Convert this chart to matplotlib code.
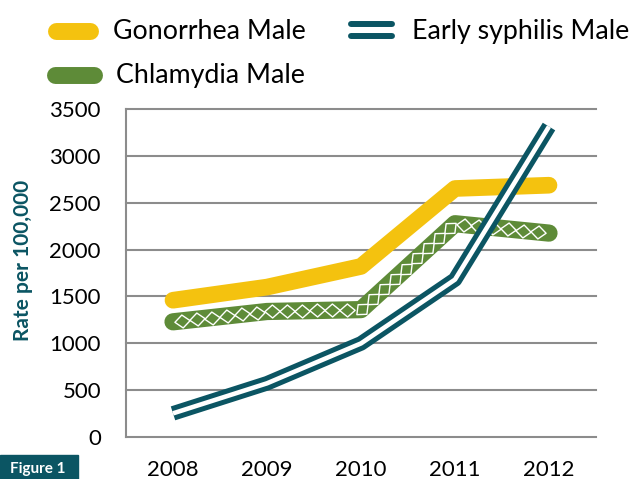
import numpy as np
import matplotlib
matplotlib.use('Agg')
import matplotlib.pyplot as plt
from matplotlib.path import Path
from matplotlib.markers import MarkerStyle
from matplotlib.transforms import Affine2D
from matplotlib.patches import Rectangle, Polygon

# ---- data ----
years = ['2008', '2009', '2010', '2011', '2012']
gonorrhea = [1460, 1600, 1820, 2650, 2685]
chlamydia = [1230, 1340, 1360, 2275, 2175]
syphilis = [255, 575, 1000, 1680, 3310]
yticks = [0, 500, 1000, 1500, 2000, 2500, 3000, 3500]
series_names = ['Gonorrhea Male', 'Early syphilis Male', 'Chlamydia Male']
ylabel = 'Rate per 100,000'
fig_label = 'Figure 1'

# ---- style ----
YELLOW = '#F4C20F'
GREEN = '#5E8B38'
TEAL = '#0B5563'
GRID = '#8C8C8C'
plt.rcParams['font.family'] = ['Lato', 'DejaVu Sans']

W, H = 631, 479
fig = plt.figure(figsize=(W / 100, H / 100), dpi=100)
ax_l, ax_r, ax_t, ax_b = 126, 596, 108.7, 437.3
ax = fig.add_axes([ax_l / W, (H - ax_b) / H, (ax_r - ax_l) / W, (ax_b - ax_t) / H])
x = np.arange(len(years))
ax.set_xlim(-0.5, len(years) - 0.5)
ax.set_ylim(0, 3500)
ax.set_xticks(x)
ax.set_xticklabels(years)
ax.set_yticks(yticks)
ax.set_yticklabels([str(v) for v in yticks])
ax.tick_params(axis='both', length=0, labelsize=16, colors='#000000')
ax.tick_params(axis='y', pad=18)
ax.tick_params(axis='x', pad=16)
for s in ['top', 'right', 'bottom']:
    ax.spines[s].set_visible(False)
ax.spines['left'].set_color(GRID)
ax.spines['left'].set_linewidth(1.5)
for v in yticks:
    ax.axhline(v, color=GRID, lw=1.5, zorder=0.5, clip_on=False)

# Gonorrhea
ax.plot(x, gonorrhea, color=YELLOW, lw=12, solid_capstyle='round',
        solid_joinstyle='round', zorder=3)
# Chlamydia
ax.plot(x, chlamydia, color=GREEN, lw=12.4, solid_capstyle='round',
        solid_joinstyle='round', zorder=3)

# diamond pattern along chlamydia line
pts = ax.transData.transform(np.column_stack([x, chlamydia]))
seg = np.diff(pts, axis=0)
seglen = np.hypot(seg[:, 0], seg[:, 1])
cum = np.concatenate([[0], np.cumsum(seglen)])
step = 15.0
inv = ax.transData.inverted()
diamond = Path([(-1, 0), (0, 0.85), (1, 0), (0, -0.85), (-1, 0)],
               [Path.MOVETO, Path.LINETO, Path.LINETO, Path.LINETO, Path.CLOSEPOLY])
for s in np.arange(9.5, cum[-1] - 6, step):
    i = min(np.searchsorted(cum, s, side='right') - 1, len(seg) - 1)
    t = (s - cum[i]) / seglen[i]
    p = pts[i] + t * seg[i]
    ang = np.degrees(np.arctan2(seg[i, 1], seg[i, 0]))
    dp = inv.transform(p)
    ax.plot([dp[0]], [dp[1]], linestyle='none',
            marker=MarkerStyle(diamond, transform=Affine2D().rotate_deg(ang)),
            markersize=11.0, mfc='none', mec='white', mew=1.0, zorder=3.5)

# Early syphilis (double line)
ax.plot(x, syphilis, color=TEAL, lw=10.5, solid_capstyle='butt',
        solid_joinstyle='round', zorder=4)
ax.plot(x, syphilis, color='white', lw=3.3, solid_capstyle='butt',
        solid_joinstyle='round', zorder=4.1)

# ---- overlay for legend / labels (pixel coordinates) ----
lax = fig.add_axes([0, 0, 1, 1], zorder=5)
lax.set_xlim(0, W)
lax.set_ylim(H, 0)
lax.axis('off')

LFS = 19.3
# legend: gonorrhea
lax.plot([56, 90], [30.5, 30.5], color=YELLOW, lw=12.2, solid_capstyle='round')
lax.text(113, 39, series_names[0], fontsize=LFS, va='baseline', ha='left', color='#000000')
# legend: syphilis
lax.plot([350.5, 391.5], [23.8, 23.8], color=TEAL, lw=4.3, solid_capstyle='round')
lax.plot([350.5, 391.5], [36, 36], color=TEAL, lw=4.3, solid_capstyle='round')
lax.text(412, 39, series_names[1], fontsize=LFS, va='baseline', ha='left', color='#000000')
# legend: chlamydia
lax.plot([55, 94], [75, 75], color=GREEN, lw=12.2, solid_capstyle='round')
for cx in (65, 86):
    lax.add_patch(Polygon([(cx - 10.5, 75), (cx, 68.5), (cx + 10.5, 75), (cx, 81.5)],
                          closed=True, fc='none', ec='white', lw=0.9))
lax.text(116, 82.5, series_names[2], fontsize=LFS, va='baseline', ha='left', color='#000000')

# y label
lax.text(23, 260, ylabel, rotation=90, ha='center', va='center', fontsize=15,
         fontweight='bold', color=TEAL)

# figure label box at the bottom-left corner
lax.add_patch(Rectangle((0, 455), 78, 30, color=TEAL, clip_on=False))
lax.text(66, 473, fig_label, ha='right', va='baseline', fontsize=11,
         fontweight='bold', color='white')

fig.savefig('out.png', dpi=100)
